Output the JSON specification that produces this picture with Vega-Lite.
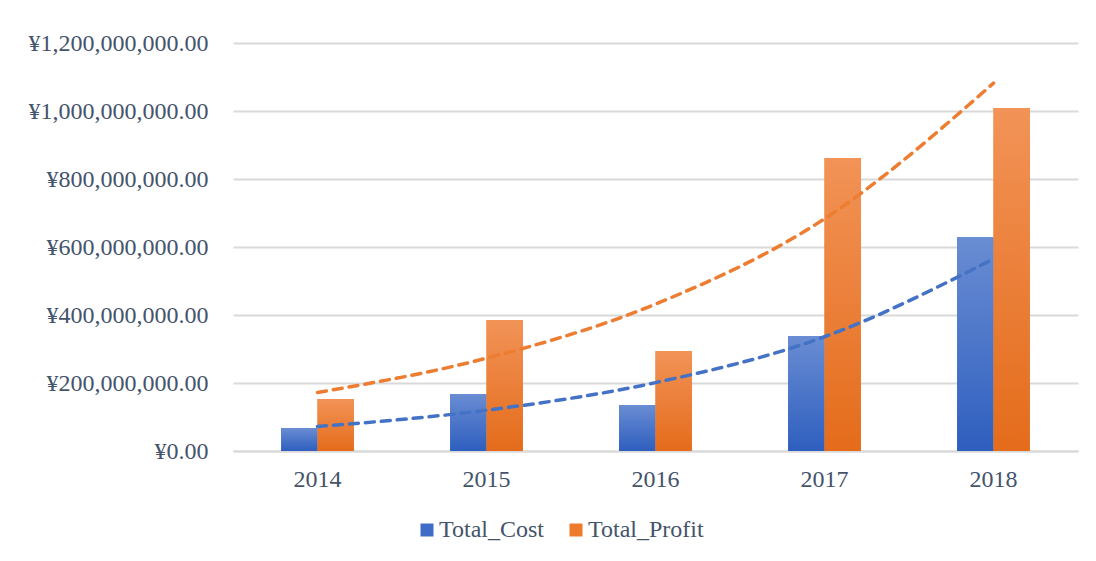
{
  "$schema": "https://vega.github.io/schema/vega-lite/v6.json",
  "width": 845,
  "height": 408,
  "autosize": "none",
  "padding": {"left": 233, "top": 43, "right": 18, "bottom": 110},
  "background": "white",
  "config": {"view": {"stroke": null}, "font": "Liberation Serif"},
  "datasets": {
    "bars": [
      {"year": "2014", "series": "Total_Cost", "value": 68000000},
      {"year": "2014", "series": "Total_Profit", "value": 153000000},
      {"year": "2015", "series": "Total_Cost", "value": 168000000},
      {"year": "2015", "series": "Total_Profit", "value": 385000000},
      {"year": "2016", "series": "Total_Cost", "value": 135000000},
      {"year": "2016", "series": "Total_Profit", "value": 294000000},
      {"year": "2017", "series": "Total_Cost", "value": 338000000},
      {"year": "2017", "series": "Total_Profit", "value": 862000000},
      {"year": "2018", "series": "Total_Cost", "value": 629000000},
      {"year": "2018", "series": "Total_Profit", "value": 1009000000}
    ],
    "trend": [
      {"year": "2014", "series": "Total_Cost", "trend": 72000000},
      {"year": "2015", "series": "Total_Cost", "trend": 120000000},
      {"year": "2016", "series": "Total_Cost", "trend": 201000000},
      {"year": "2017", "series": "Total_Cost", "trend": 336000000},
      {"year": "2018", "series": "Total_Cost", "trend": 565000000},
      {"year": "2014", "series": "Total_Profit", "trend": 172000000},
      {"year": "2015", "series": "Total_Profit", "trend": 273000000},
      {"year": "2016", "series": "Total_Profit", "trend": 432000000},
      {"year": "2017", "series": "Total_Profit", "trend": 683000000},
      {"year": "2018", "series": "Total_Profit", "trend": 1082000000}
    ]
  },
  "encoding": {
    "x": {
      "field": "year",
      "type": "nominal",
      "title": null,
      "scale": {"paddingInner": 0.57, "paddingOuter": 0.285},
      "axis": {
        "labelAngle": 0,
        "labelFont": "Liberation Serif",
        "labelFontSize": 24,
        "labelColor": "#44546A",
        "ticks": false,
        "domain": true,
        "domainColor": "#D9D9D9",
        "domainWidth": 2,
        "labelPadding": 16,
        "grid": false
      }
    },
    "y": {
      "type": "quantitative",
      "title": null,
      "scale": {"domain": [0, 1200000000], "nice": false},
      "axis": {
        "values": [0, 200000000, 400000000, 600000000, 800000000, 1000000000, 1200000000],
        "labelExpr": "'¥' + format(datum.value, ',.2f')",
        "labelFont": "Liberation Serif",
        "labelFontSize": 24,
        "labelColor": "#44546A",
        "labelLimit": 400,
        "ticks": false,
        "domain": false,
        "grid": true,
        "gridColor": "#D9D9D9",
        "gridWidth": 2,
        "labelPadding": 25
      }
    }
  },
  "layer": [
    {
      "data": {"name": "bars"},
      "mark": {"type": "bar"},
      "encoding": {
        "y": {"field": "value", "type": "quantitative"},
        "xOffset": {"field": "series", "type": "nominal", "scale": {"domain": ["Total_Cost", "Total_Profit"], "padding": 0}},
        "color": {
          "field": "series",
          "type": "nominal",
          "scale": {"domain": ["Total_Cost", "Total_Profit"], "range": ["#3F6CC6", "#EE7A2C"]},
          "legend": {
            "orient": "none",
            "legendX": 182,
            "legendY": 475,
            "direction": "horizontal",
            "title": null,
            "symbolType": "square",
            "symbolSize": 169,
            "symbolStrokeWidth": 0,
            "labelFont": "Liberation Serif",
            "labelFontSize": 24,
            "labelColor": "#44546A",
            "labelLimit": 300,
            "labelOffset": 0,
            "columnPadding": 20
          }
        }
      }
    },
    {
      "data": {"name": "bars"},
      "transform": [{"filter": "datum.series === 'Total_Cost'"}],
      "mark": {
        "type": "bar",
        "fill": {"gradient": "linear", "x1": 0, "y1": 0, "x2": 0, "y2": 1, "stops": [{"offset": 0, "color": "#6A8DD3"}, {"offset": 1, "color": "#2E5EBE"}]}
      },
      "encoding": {
        "y": {"field": "value", "type": "quantitative"},
        "xOffset": {"field": "series", "type": "nominal"}
      }
    },
    {
      "data": {"name": "bars"},
      "transform": [{"filter": "datum.series === 'Total_Profit'"}],
      "mark": {
        "type": "bar",
        "fill": {"gradient": "linear", "x1": 0, "y1": 0, "x2": 0, "y2": 1, "stops": [{"offset": 0, "color": "#F29357"}, {"offset": 1, "color": "#E46C1B"}]}
      },
      "encoding": {
        "y": {"field": "value", "type": "quantitative"},
        "xOffset": {"field": "series", "type": "nominal"}
      }
    },
    {
      "data": {"name": "trend"},
      "mark": {"type": "line", "strokeDash": [9, 7], "strokeWidth": 3.5, "strokeCap": "round", "interpolate": "monotone"},
      "encoding": {
        "y": {"field": "trend", "type": "quantitative"},
        "stroke": {
          "field": "series",
          "type": "nominal",
          "scale": {"domain": ["Total_Cost", "Total_Profit"], "range": ["#4472C4", "#ED7D31"]},
          "legend": null
        }
      }
    }
  ]
}
